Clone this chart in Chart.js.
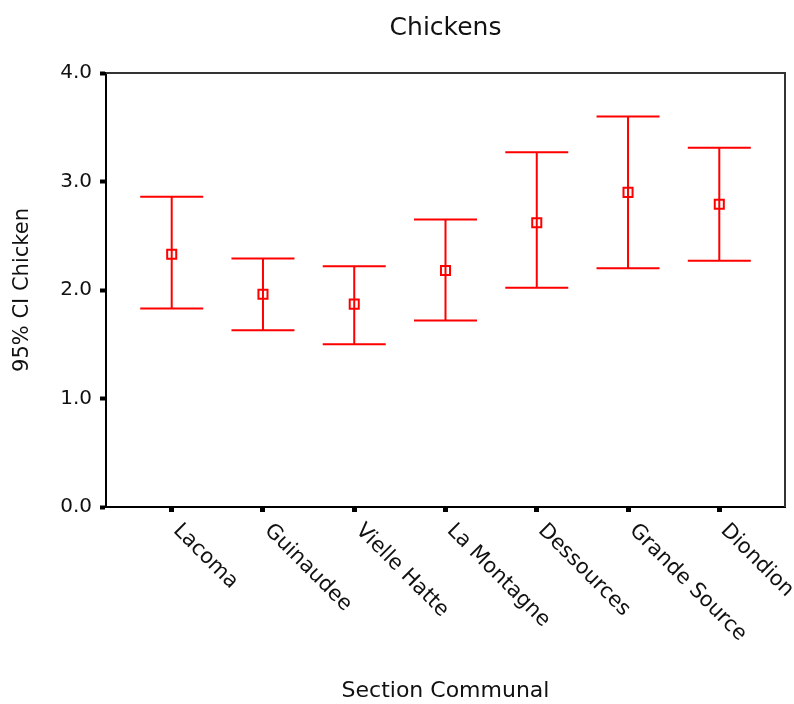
<!DOCTYPE html>
<html>
<head>
<meta charset="utf-8">
<title>Chickens</title>
<script src="https://cdn.jsdelivr.net/npm/chart.js@4.4.1/dist/chart.umd.min.js"></script>
<style>
  html, body { margin: 0; padding: 0; background: #fff; }
  canvas { display: block; }
</style>
</head>
<body>
<canvas id="ciChart" width="794" height="704"></canvas>
<script>
// Section communal means with 95% CI bounds
const categories = ['Lacoma', 'Guinaudee', 'Vielle Hatte', 'La Montagne', 'Dessources', 'Grande Source', 'Diondion'];
const meanValues = [2.33, 1.96, 1.87, 2.18, 2.62, 2.90, 2.79];
const upperValues = [2.86, 2.29, 2.22, 2.65, 3.27, 3.60, 3.31];
const lowerValues = [1.83, 1.63, 1.50, 1.72, 2.02, 2.20, 2.27];
const yTicks = [0, 1, 2, 3, 4];

const FONT = 'DejaVu Sans';
const RED = '#ff0000';
const INK = '#111';

// Whiskers: vertical line from lower to upper with caps
const errorBars = {
    id: 'errorBars',
    beforeDatasetsDraw(chart) {
        const { ctx, scales: { x, y } } = chart;
        const capHalf = 31.5;
        ctx.save();
        ctx.strokeStyle = RED;
        ctx.lineWidth = 2;
        categories.forEach((c, i) => {
            const px = x.getPixelForValue(i);
            const top = y.getPixelForValue(upperValues[i]);
            const bot = y.getPixelForValue(lowerValues[i]);
            ctx.beginPath();
            ctx.moveTo(px, top);
            ctx.lineTo(px, bot);
            ctx.moveTo(px - capHalf, top);
            ctx.lineTo(px + capHalf, top);
            ctx.moveTo(px - capHalf, bot);
            ctx.lineTo(px + capHalf, bot);
            ctx.stroke();
        });
        ctx.restore();
    }
};

// Top and right sides of the frame
const frame = {
    id: 'frame',
    afterDraw(chart) {
        const { ctx, chartArea: a } = chart;
        ctx.save();
        ctx.strokeStyle = '#333';
        ctx.lineWidth = 2;
        ctx.beginPath();
        ctx.moveTo(a.left, a.top);
        ctx.lineTo(a.right, a.top);
        ctx.lineTo(a.right, a.bottom);
        ctx.stroke();
        ctx.restore();
    }
};

// Category names slanted down to the right under each tick
const slantLabels = {
    id: 'slantLabels',
    afterDraw(chart) {
        const { ctx, scales: { x }, chartArea: a } = chart;
        ctx.save();
        ctx.fillStyle = INK;
        ctx.font = '21px "' + FONT + '"';
        ctx.textAlign = 'left';
        ctx.textBaseline = 'top';
        categories.forEach((c, i) => {
            const px = x.getPixelForValue(i);
            ctx.save();
            ctx.translate(px + 12, a.bottom + 13);
            ctx.rotate(Math.PI / 4);
            ctx.fillText(c, 0, 0);
            ctx.restore();
        });
        ctx.restore();
    }
};

Chart.defaults.font.family = FONT;
Chart.defaults.color = INK;

new Chart(document.getElementById('ciChart'), {
    type: 'scatter',
    data: {
        datasets: [{
            label: 'Mean',
            data: meanValues.map((v, i) => ({ x: i, y: v })),
            pointStyle: 'rect',
            pointRadius: 6.4,
            pointHoverRadius: 6.4,
            borderColor: RED,
            backgroundColor: 'rgba(0,0,0,0)',
            borderWidth: 2
        }]
    },
    options: {
        responsive: false,
        animation: false,
        devicePixelRatio: 1,
        layout: { padding: { left: 0, right: 9, top: 0, bottom: 0 } },
        plugins: {
            legend: { display: false },
            tooltip: { enabled: false },
            title: {
                display: true,
                text: 'Chickens',
                fullSize: false,
                color: INK,
                font: { size: 25, weight: 'normal' },
                padding: { top: 13, bottom: 30 }
            }
        },
        scales: {
            x: {
                type: 'linear',
                min: -0.72,
                max: 6.72,
                afterBuildTicks: s => { s.ticks = categories.map((c, i) => ({ value: i })); },
                afterFit: s => { s.height = 197; },
                ticks: { display: false },
                grid: {
                    drawOnChartArea: false,
                    drawTicks: true,
                    tickLength: 5,
                    tickWidth: 5,
                    tickColor: '#000'
                },
                border: { display: true, color: '#000', width: 2 },
                title: {
                    display: true,
                    text: 'Section Communal',
                    color: INK,
                    font: { size: 22 },
                    padding: { top: 0, bottom: 0 }
                }
            },
            y: {
                min: 0,
                max: 4,
                afterBuildTicks: s => { s.ticks = yTicks.map(v => ({ value: v })); },
                afterFit: s => { s.width = 106; },
                ticks: {
                    font: { size: 20 },
                    color: INK,
                    padding: 8,
                    callback: v => v.toFixed(1)
                },
                grid: {
                    drawOnChartArea: false,
                    drawTicks: true,
                    tickLength: 6,
                    tickWidth: 4,
                    tickColor: '#000'
                },
                border: { display: true, color: '#000', width: 2 },
                title: {
                    display: true,
                    text: '95% CI Chicken',
                    color: INK,
                    font: { size: 21 },
                    padding: { top: 10, bottom: 0 }
                }
            }
        }
    },
    plugins: [errorBars, frame, slantLabels]
});
</script>
</body>
</html>
